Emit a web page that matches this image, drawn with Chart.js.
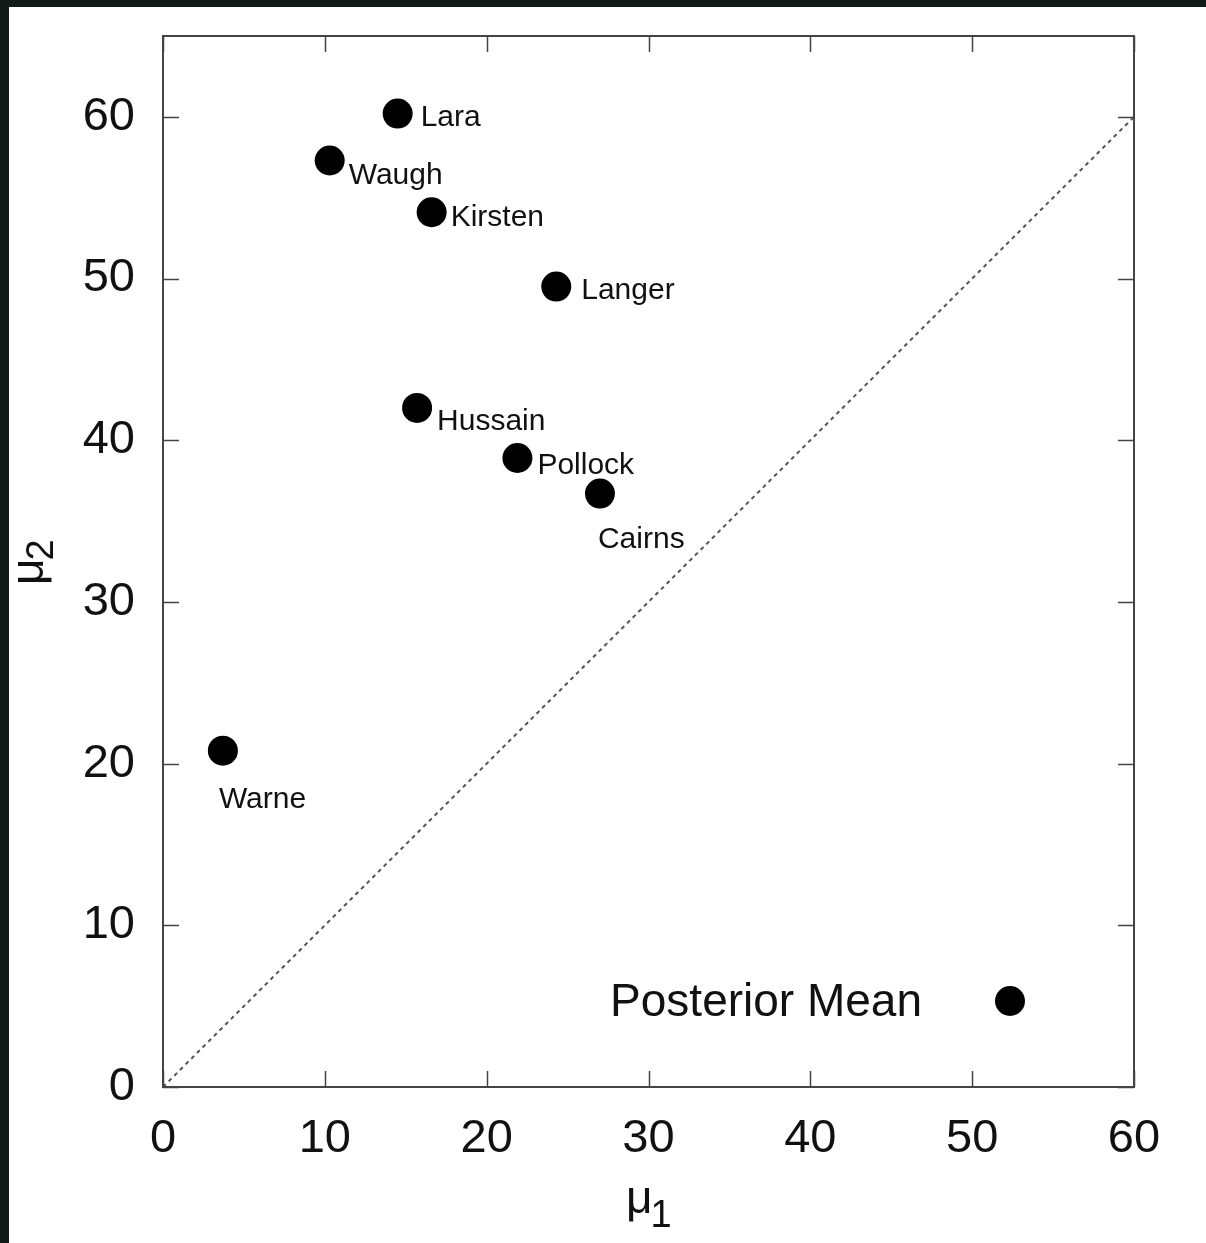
<!DOCTYPE html>
<html>
<head>
<meta charset="utf-8">
<script src="https://cdn.jsdelivr.net/npm/chart.js@4"></script>
<style>
  html, body { margin: 0; padding: 0; background: #111a17; }
  #wrap { position: absolute; left: 0; top: 0; width: 1206px; height: 1243px; }
</style>
</head>
<body>
<div id="wrap"><canvas id="c" width="1206" height="1243"></canvas></div>
<script>
// ---- data ----
const players = ['Lara', 'Waugh', 'Kirsten', 'Langer', 'Hussain', 'Pollock', 'Cairns', 'Warne'];
const mu1 = [14.5, 10.3, 16.6, 24.3, 15.7, 21.9, 27.0, 3.7];
const mu2 = [60.2, 57.3, 54.1, 49.5, 42.0, 38.9, 36.7, 20.8];
const diagX = [0, 60];
const diagY = [0, 60];
const xTicks = [0, 10, 20, 30, 40, 50, 60];
const yTicks = [0, 10, 20, 30, 40, 50, 60];
const seriesLabel = 'Posterior Mean';
const xTitle = ['μ', '1'];
const yTitle = ['μ', '2'];

// label placement (pixel offsets from point centre to text left / middle)
const labelOffsets = [[23, 4], [19, 15], [19, 5], [25, 4], [20, 14], [20, 8], [-2, 46], [-4, 49]];

const FONT = '"Liberation Sans", Arial, Helvetica, sans-serif';
const FRAME = '#444444';

const chartPlugin = {
  id: 'custom',
  beforeDraw(chart) {
    const ctx = chart.ctx;
    ctx.save();
    ctx.fillStyle = '#111a17';
    ctx.fillRect(0, 0, chart.width, chart.height);
    ctx.fillStyle = '#ffffff';
    ctx.fillRect(9, 7, chart.width - 9, chart.height - 7);
    ctx.restore();
  },
  afterDatasetsDraw(chart) {
    const ctx = chart.ctx;
    const a = chart.chartArea;
    const xs = chart.scales.x, ys = chart.scales.y;
    ctx.save();
    // frame
    ctx.strokeStyle = FRAME;
    ctx.lineWidth = 2;
    ctx.strokeRect(a.left, a.top, a.right - a.left, a.bottom - a.top);
    // inward ticks on all four sides
    const TL = 16;
    ctx.beginPath();
    xTicks.forEach(v => {
      const px = Math.round(xs.getPixelForValue(v)) + 0.5;
      ctx.moveTo(px, a.bottom); ctx.lineTo(px, a.bottom - TL);
      ctx.moveTo(px, a.top); ctx.lineTo(px, a.top + TL);
    });
    yTicks.forEach(v => {
      const py = Math.round(ys.getPixelForValue(v)) + 0.5;
      ctx.moveTo(a.left, py); ctx.lineTo(a.left + TL, py);
      ctx.moveTo(a.right, py); ctx.lineTo(a.right - TL, py);
    });
    ctx.lineWidth = 1.5;
    ctx.stroke();

    // point labels
    ctx.fillStyle = '#111';
    ctx.font = '30px ' + FONT;
    ctx.textAlign = 'left';
    ctx.textBaseline = 'middle';
    const meta = chart.getDatasetMeta(0);
    meta.data.forEach((pt, i) => {
      const off = labelOffsets[i];
      ctx.fillText(players[i], pt.x + off[0], pt.y + off[1]);
    });

    // legend (inside plot, bottom right)
    const ds = chart.data.datasets[0];
    ctx.font = '46px ' + FONT;
    ctx.textAlign = 'right';
    ctx.fillText(ds.label, a.right - 212, a.bottom - 84);
    ctx.beginPath();
    ctx.arc(a.right - 124, a.bottom - 86, ds.pointRadius, 0, Math.PI * 2);
    ctx.fillStyle = ds.backgroundColor;
    ctx.fill();

    // axis titles with subscripts
    ctx.fillStyle = '#111';
    ctx.textAlign = 'left';
    ctx.textBaseline = 'alphabetic';
    // x title
    ctx.font = '46px ' + FONT;
    const w1 = ctx.measureText(xTitle[0]).width;
    const sx = 626;
    ctx.fillText(xTitle[0], sx, 1213);
    ctx.font = '38px ' + FONT;
    ctx.fillText(xTitle[1], sx + w1 - 2, 1227);
    // y title
    ctx.save();
    ctx.translate(43, 585);
    ctx.rotate(-Math.PI / 2);
    ctx.font = '46px ' + FONT;
    ctx.fillText(yTitle[0], 0, 0);
    const wy = ctx.measureText(yTitle[0]).width;
    ctx.font = '38px ' + FONT;
    ctx.fillText(yTitle[1], wy - 2, 10);
    ctx.restore();

    ctx.restore();
  }
};

new Chart(document.getElementById('c'), {
  type: 'scatter',
  data: {
    datasets: [
      {
        label: seriesLabel,
        data: mu1.map((x, i) => ({ x: x, y: mu2[i] })),
        pointRadius: 15,
        pointHoverRadius: 15,
        backgroundColor: '#000000',
        borderWidth: 0,
        order: 1
      },
      {
        label: 'diagonal',
        data: diagX.map((x, i) => ({ x: x, y: diagY[i] })),
        showLine: true,
        pointRadius: 0,
        borderColor: '#555555',
        borderWidth: 2,
        borderDash: [4, 4],
        order: 2
      }
    ]
  },
  options: {
    responsive: false,
    animation: false,
    events: [],
    layout: { padding: { top: 36, right: 72, left: 0, bottom: 0 } },
    plugins: { legend: { display: false }, tooltip: { enabled: false } },
    scales: {
      x: {
        type: 'linear', min: 0, max: 60,
        afterBuildTicks: s => { s.ticks = xTicks.map(v => ({ value: v })); },
        afterFit: s => { s.height = 156; s.paddingLeft = 0; s.paddingRight = 0; },
        grid: { display: false, drawTicks: false },
        border: { display: false },
        ticks: { color: '#111', font: { family: FONT, size: 47 }, padding: 24, maxRotation: 0 }
      },
      y: {
        type: 'linear', min: 0, max: 65,
        afterBuildTicks: s => { s.ticks = yTicks.map(v => ({ value: v })); },
        afterFit: s => { s.width = 163; s.paddingTop = 0; s.paddingBottom = 0; },
        grid: { display: false, drawTicks: false },
        border: { display: false },
        ticks: { color: '#111', font: { family: FONT, size: 47 }, padding: 28 }
      }
    }
  },
  plugins: [chartPlugin]
});
</script>
</body>
</html>
